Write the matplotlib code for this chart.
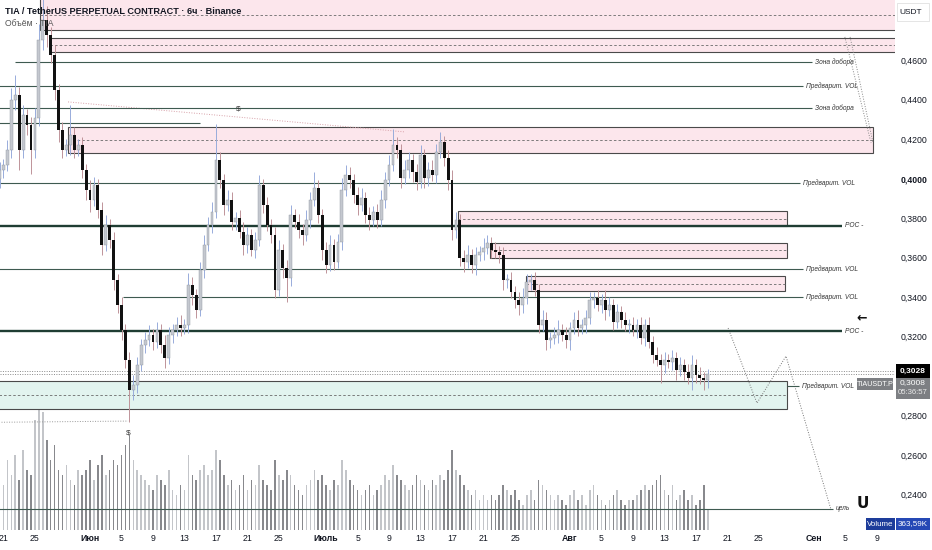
import matplotlib
matplotlib.use('Agg')
import matplotlib.pyplot as plt
import matplotlib.dates as mdates
import matplotlib.transforms as mtransforms
from matplotlib.patches import Rectangle
import pandas as pd
import numpy as np

plt.rcParams['font.family'] = ['Liberation Sans Narrow', 'Liberation Sans', 'DejaVu Sans']

# ---------------- data ----------------
candle_start = '2025-05-20 12:00'
candle_step = '12h'
first_open = 0.4000
closes = [
    0.4043, 0.4069, 0.4145, 0.4398, 0.4423, 0.4145, 0.4322, 0.4271, 0.4145, 0.4307,
    0.4701, 0.4803, 0.4727, 0.4626, 0.4448, 0.4246, 0.4145, 0.4170, 0.4220, 0.4145,
    0.4170, 0.4043, 0.3942, 0.3891, 0.3967, 0.3841, 0.3663, 0.3765, 0.3689, 0.3486,
    0.3360, 0.3233, 0.3081, 0.2929, 0.2955, 0.3056, 0.3157, 0.3183, 0.3208, 0.3172,
    0.3233, 0.3157, 0.3091, 0.3208, 0.3233, 0.3258, 0.3243, 0.3258, 0.3461, 0.3410,
    0.3334, 0.3537, 0.3663, 0.3765, 0.3831, 0.4094, 0.3993, 0.3866, 0.3891, 0.3780,
    0.3800, 0.3729, 0.3663, 0.3714, 0.3638, 0.3689, 0.3967, 0.3866, 0.3765, 0.3714,
    0.3436, 0.3638, 0.3547, 0.3496, 0.3815, 0.3780, 0.3739, 0.3714, 0.3790, 0.3891,
    0.3952, 0.3815, 0.3638, 0.3562, 0.3663, 0.3577, 0.3679, 0.3942, 0.4018, 0.3993,
    0.3917, 0.3866, 0.3901, 0.3815, 0.3790, 0.3831, 0.3790, 0.3891, 0.3993, 0.4069,
    0.4170, 0.4145, 0.4003, 0.4043, 0.4094, 0.4033, 0.3982, 0.4119, 0.4003, 0.4043,
    0.4018, 0.4134, 0.4185, 0.4104, 0.3993, 0.3739, 0.3790, 0.3598, 0.3577, 0.3613,
    0.3562, 0.3613, 0.3628, 0.3648, 0.3674, 0.3638, 0.3628, 0.3613, 0.3486, 0.3486,
    0.3426, 0.3385, 0.3360, 0.3395, 0.3476, 0.3486, 0.3436, 0.3258, 0.3284, 0.3183,
    0.3193, 0.3208, 0.3233, 0.3208, 0.3183, 0.3243, 0.3284, 0.3243, 0.3258, 0.3294,
    0.3385, 0.3395, 0.3360, 0.3385, 0.3334, 0.3360, 0.3274, 0.3324, 0.3284, 0.3258,
    0.3258, 0.3233, 0.3258, 0.3193, 0.3258, 0.3172, 0.3106, 0.3081, 0.3056, 0.3081,
    0.3071, 0.3091, 0.3030, 0.3056, 0.3020, 0.2990, 0.3056, 0.3005, 0.2990, 0.2980,
    0.3008]
wick_up = [
    0.004, 0.003, 0.005, 0.006, 0.010, 0.004, 0.005, 0.003, 0.004, 0.005,
    0.008, 0.012, 0.007, 0.004, 0.005, 0.003, 0.004, 0.003, 0.015, 0.004,
    0.003, 0.004, 0.003, 0.005, 0.004, 0.003, 0.004, 0.005, 0.003, 0.004,
    0.003, 0.004, 0.003, 0.004, 0.005, 0.004, 0.003, 0.004, 0.005, 0.003,
    0.004, 0.003, 0.005, 0.004, 0.003, 0.004, 0.005, 0.003, 0.006, 0.004,
    0.003, 0.004, 0.005, 0.004, 0.005, 0.018, 0.004, 0.003, 0.005, 0.004,
    0.003, 0.004, 0.005, 0.004, 0.003, 0.004, 0.005, 0.003, 0.004, 0.003,
    0.004, 0.005, 0.003, 0.004, 0.005, 0.003, 0.004, 0.003, 0.005, 0.004,
    0.008, 0.004, 0.003, 0.004, 0.005, 0.003, 0.004, 0.006, 0.005, 0.004,
    0.003, 0.004, 0.005, 0.003, 0.004, 0.003, 0.004, 0.005, 0.004, 0.005,
    0.008, 0.004, 0.003, 0.005, 0.004, 0.003, 0.004, 0.005, 0.003, 0.004,
    0.005, 0.004, 0.005, 0.003, 0.004, 0.005, 0.004, 0.003, 0.004, 0.005,
    0.003, 0.004, 0.003, 0.005, 0.004, 0.003, 0.004, 0.003, 0.004, 0.003,
    0.004, 0.003, 0.004, 0.005, 0.004, 0.003, 0.004, 0.003, 0.005, 0.004,
    0.003, 0.004, 0.005, 0.003, 0.004, 0.003, 0.004, 0.005, 0.003, 0.004,
    0.004, 0.003, 0.004, 0.003, 0.005, 0.004, 0.003, 0.004, 0.003, 0.004,
    0.003, 0.004, 0.003, 0.004, 0.003, 0.004, 0.003, 0.004, 0.003, 0.004,
    0.003, 0.004, 0.003, 0.004, 0.003, 0.004, 0.005, 0.003, 0.004, 0.003,
    0.003]
wick_dn = [
    0.005, 0.004, 0.003, 0.004, 0.005, 0.010, 0.004, 0.005, 0.012, 0.004,
    0.004, 0.005, 0.006, 0.004, 0.005, 0.006, 0.004, 0.003, 0.005, 0.004,
    0.003, 0.004, 0.005, 0.006, 0.003, 0.004, 0.005, 0.003, 0.004, 0.005,
    0.004, 0.005, 0.004, 0.016, 0.005, 0.004, 0.003, 0.004, 0.003, 0.004,
    0.003, 0.004, 0.005, 0.003, 0.004, 0.003, 0.004, 0.003, 0.004, 0.005,
    0.004, 0.003, 0.004, 0.003, 0.004, 0.003, 0.004, 0.005, 0.003, 0.004,
    0.004, 0.003, 0.005, 0.004, 0.003, 0.004, 0.003, 0.004, 0.003, 0.004,
    0.004, 0.003, 0.005, 0.012, 0.004, 0.003, 0.004, 0.005, 0.003, 0.004,
    0.003, 0.004, 0.005, 0.004, 0.003, 0.004, 0.003, 0.004, 0.003, 0.004,
    0.004, 0.005, 0.003, 0.004, 0.005, 0.003, 0.004, 0.003, 0.004, 0.003,
    0.003, 0.004, 0.005, 0.003, 0.004, 0.005, 0.004, 0.003, 0.005, 0.004,
    0.003, 0.004, 0.003, 0.004, 0.005, 0.005, 0.004, 0.004, 0.005, 0.003,
    0.004, 0.005, 0.003, 0.004, 0.003, 0.004, 0.003, 0.004, 0.005, 0.004,
    0.003, 0.004, 0.005, 0.004, 0.003, 0.004, 0.003, 0.004, 0.003, 0.005,
    0.004, 0.003, 0.004, 0.003, 0.004, 0.005, 0.003, 0.004, 0.003, 0.004,
    0.003, 0.004, 0.003, 0.004, 0.005, 0.003, 0.004, 0.003, 0.004, 0.003,
    0.004, 0.003, 0.004, 0.003, 0.004, 0.003, 0.004, 0.003, 0.009, 0.004,
    0.003, 0.004, 0.005, 0.003, 0.004, 0.003, 0.006, 0.004, 0.003, 0.005,
    0.004]
volumes_k = [
    2400, 1800, 2800, 2200, 3000, 2000, 3200, 2400, 2200,
    4400, 5000, 4720, 3600,
    2800, 3400, 2400, 2200, 2600, 2000, 1800, 2400,
    2200, 2400, 2800, 2000, 2600, 3000, 2200, 2400, 2800, 2600, 3000, 3400, 3800,
    2800, 2400, 2200, 2000, 1800, 1600, 2200, 2000, 1800, 2400, 1600, 1400, 1800, 1600,
    3000, 2200, 2000, 2400, 2600, 2200, 2400, 3200, 2800,
    2200, 1800, 2000, 1600, 1800, 2200, 1600, 2000, 1800, 2600, 2000, 1800, 1600, 2800, 2200, 2000, 2400,
    2200, 1800, 1600, 1400, 1800, 2000, 2400, 2000, 2200, 1800, 1600, 2000, 1800, 2800, 2400, 2000,
    1800, 1600, 1400, 1600, 1800, 1400, 1600, 1800, 2200, 2000,
    2600, 2200, 2000, 1800, 1600, 1800, 2200, 2000, 1800, 1600, 2000, 1800, 2200, 2000, 2400, 3200,
    2400, 2200, 1800, 1600, 1400, 1600, 1200, 1400, 1200, 1400, 1200, 1400, 1800, 1600, 1400, 1600,
    1200, 1000, 1400, 1600, 1200, 2000, 1800, 1600, 1400,
    1200, 1400, 1200, 1000, 1400, 1600, 1200, 1400, 1000, 1600, 1800, 1400, 1200, 1000, 1200,
    1400, 1600, 1200, 1000, 1200, 1200, 1400, 1600, 1800, 1600, 1800, 2000, 2200, 1600, 1400,
    1800, 1200, 1400, 1600, 1200, 1400, 1000, 1200, 1800, 800]

last_price = 0.3008
bid_line = 0.3028
last_volume_label = '363,59K'

price_ticks = [0.24, 0.26, 0.28, 0.32, 0.34, 0.36, 0.38, 0.40, 0.42, 0.44, 0.46]
bold_price_tick = '0,4000'

date_ticks = ['2025-05-21', '2025-05-25', '2025-06-01', '2025-06-05', '2025-06-09',
              '2025-06-13', '2025-06-17', '2025-06-21', '2025-06-25', '2025-07-01',
              '2025-07-05', '2025-07-09', '2025-07-13', '2025-07-17', '2025-07-21',
              '2025-07-25', '2025-08-01', '2025-08-05', '2025-08-09', '2025-08-13',
              '2025-08-17', '2025-08-21', '2025-08-25', '2025-09-01', '2025-09-05',
              '2025-09-09']
date_labels = ['21', '25', 'Июн', '5', '9', '13', '17', '21', '25', 'Июль', '5', '9', '13',
               '17', '21', '25', 'Авг', '5', '9', '13', '17', '21', '25', 'Сен', '5', '9']
month_labels = ['Июн', 'Июль', 'Авг', 'Сен']

LEFT = '2025-05-10'
RIGHT = '2025-09-20'
# zones: (low, high, dashed mid, start, end, kind)
zones = [
    (0.4752, 0.4960, 0.4828, '2025-05-25 16:00', RIGHT, 'pink'),
    (0.4641, 0.4712, 0.4676, '2025-05-26 22:00', RIGHT, 'pink'),
    (0.4129, 0.4261, 0.4195, '2025-05-29 05:00', '2025-09-08 12:00', 'pink'),
    (0.3760, 0.3836, 0.3795, '2025-07-17 18:00', '2025-08-28 13:00', 'pink'),
    (0.3598, 0.3674, 0.3638, '2025-07-21 20:00', '2025-08-28 13:00', 'pink'),
    (0.3431, 0.3507, 0.3466, '2025-07-26 09:30', '2025-08-28 06:00', 'pink'),
    (0.2833, 0.2975, 0.2904, LEFT, '2025-08-28 13:00', 'teal'),
]
# levels: (price, start, end, label, thick)
levels = [
    (0.4590, '2025-05-22 11:00', '2025-08-31 18:00', 'Зона добора', False),
    (0.4469, LEFT, '2025-08-30 14:30', 'Предварит. VOL', False),
    (0.4357, LEFT, '2025-08-31 18:00', 'Зона добора', False),
    (0.4281, LEFT, '2025-06-15 00:00', '', False),
    (0.3977, LEFT, '2025-08-30 05:00', 'Предварит. VOL', False),
    (0.3760, LEFT, '2025-09-04 13:00', 'POC -', True),
    (0.3542, LEFT, '2025-08-30 14:30', 'Предварит. VOL', False),
    (0.3400, '2025-06-05 04:30', '2025-08-30 14:30', 'Предварит. VOL', False),
    (0.3228, LEFT, '2025-09-04 13:00', 'POC -', True),
    (0.2950, '2025-08-28 13:00', '2025-08-30 02:00', 'Предварит. VOL', False),
    (0.2327, LEFT, '2025-09-03 10:00', 'цель', False),
]
# dotted paths: list of (date, price)
forecast_path = [('2025-08-21 02:00', 0.3243), ('2025-08-24 18:00', 0.2863),
                 ('2025-08-28 10:30', 0.3101), ('2025-09-03 04:00', 0.2322)]
top_path_a = [('2025-09-04 22:00', 0.4717), ('2025-09-08 06:00', 0.4180)]
top_path_b = [('2025-09-05 14:00', 0.4717), ('2025-09-08 12:00', 0.4180)]
trend_path = [('2025-05-29 05:00', 0.4388), ('2025-07-11 01:00', 0.4236)]
low_path = [(LEFT, 0.2762), ('2025-06-05 20:00', 0.2772)]
dollar_marks = [('2025-06-19 19:00', 0.4350), ('2025-06-05 20:00', 0.2712)]

# ---------------- figure ----------------
W, H = 932, 550
fig = plt.figure(figsize=(W / 100, H / 100), dpi=100)
fig.patch.set_facecolor('white')
ax = fig.add_axes([0, 20 / H, 895 / W, 530 / H])
axv = ax.twinx()
ax.set_zorder(2)
axv.set_zorder(1)
ax.patch.set_visible(False)

times = pd.date_range(candle_start, periods=len(closes), freq=candle_step)
xt = mdates.date2num(times.to_pydatetime())
opens = [first_open] + closes[:-1]
n = min(len(closes), len(wick_up), len(wick_dn))
o = np.array(opens[:n]); c = np.array(closes[:n])
hi = np.maximum(o, c) + np.array(wick_up[:n])
lo = np.minimum(o, c) - np.array(wick_dn[:n])
up = c >= o

def dn(s):
    return mdates.date2num(pd.Timestamp(s).to_pydatetime())

# volume
nv = min(len(volumes_k), n)
vcol = ['#c3c5c9' if up[i] else '#88898d' for i in range(nv)]
axv.bar(xt[:nv], volumes_k[:nv], width=0.2, color=vcol, linewidth=0)
axv.set_ylim(0, 21200)
axv.axis('off')

# zones
for lo_p, hi_p, mid, s, e, kind in zones:
    x0, x1 = dn(s), dn(e)
    fc = '#fce6ec' if kind == 'pink' else '#e2f4ef'
    ax.add_patch(Rectangle((x0, lo_p), x1 - x0, hi_p - lo_p, facecolor=fc,
                           edgecolor='#4a4a4a', linewidth=0.8, zorder=1))
    ax.hlines(mid, x0, x1, colors='#6a6a6a', linewidth=0.6, linestyles=(0, (3, 2.5)), zorder=1.2)

# levels
txt_off = mtransforms.offset_copy(ax.transData, fig=fig, x=3, y=0, units='dots')
for p, s, e, lab, thick in levels:
    ax.hlines(p, dn(s), dn(e), colors='#1f3d33' if thick else '#3e5a50',
              linewidth=1.7 if thick else 0.8, zorder=1.5)
    if lab:
        ax.text(dn(e), p, lab, transform=txt_off, fontsize=4.8, style='italic',
                color='#333333', va='center', ha='left', zorder=3)

# current price dotted lines
for p in (bid_line, last_price):
    ax.axhline(p, color='#8a8a8a', linewidth=0.7, linestyle=(0, (1, 1.5)), zorder=1.3)

# dotted paths
def plot_path(path, color, lw=0.7):
    xs = [dn(d) for d, _ in path]
    ys = [p for _, p in path]
    ax.plot(xs, ys, color=color, linewidth=lw, linestyle=(0, (1, 1.6)), zorder=1.4)

plot_path(forecast_path, '#777777')
plot_path(top_path_a, '#888888')
plot_path(top_path_b, '#888888')
plot_path(trend_path, '#d7a0a8')
plot_path(low_path, '#999999')
for d, p in dollar_marks:
    ax.text(dn(d), p, '$', fontsize=6, ha='center', va='center', color='#333333', zorder=3)

# candles
wick_col = np.where(up, '#98acdb', '#bf9399')
ax.vlines(xt[:n], lo, hi, colors=wick_col, linewidth=0.7, zorder=2)
body_lo = np.minimum(o, c)
body_h = np.maximum(np.abs(c - o), 0.0006)
ax.bar(xt[:n][up], body_h[up], bottom=body_lo[up], width=0.36, color='#c4c8cf',
       edgecolor='#9097a0', linewidth=0.3, zorder=2.2)
ax.bar(xt[:n][~up], body_h[~up], bottom=body_lo[~up], width=0.36, color='#111111',
       linewidth=0, zorder=2.2)

# axes limits
jun1 = pd.Timestamp('2025-06-01')
ax.set_xlim(dn(jun1 - pd.Timedelta(days=11.44)), dn(jun1 + pd.Timedelta(days=102.29)))
ax.set_ylim(0.4904 - 530 / 1975, 0.4904)
for sp in ax.spines.values():
    sp.set_visible(False)

ax.yaxis.tick_right()
ax.set_yticks(price_ticks)
ax.set_yticklabels([f'{p:.4f}'.replace('.', ',') for p in price_ticks])
ax.tick_params(axis='y', length=0, pad=4, labelsize=6.3, labelcolor='#131722')
for t in ax.get_yticklabels():
    if t.get_text() == bold_price_tick:
        t.set_fontweight('bold')

ax.set_xticks([dn(d) for d in date_ticks])
ax.set_xticklabels(date_labels)
ax.tick_params(axis='x', length=0, pad=3, labelsize=6.3, labelcolor='#131722')
for t in ax.get_xticklabels():
    if t.get_text() in month_labels:
        t.set_fontweight('bold')

# ---------------- decorations (pixel positions) ----------------
def fx(x):
    return x / W

def fy(y):
    return 1 - y / H

def fig_box(x0, y0, x1, y1, fc, ec='none', lw=0):
    fig.add_artist(Rectangle((fx(x0), fy(y1)), (x1 - x0) / W, (y1 - y0) / H,
                             transform=fig.transFigure, facecolor=fc, edgecolor=ec,
                             linewidth=lw, zorder=5))

fig.text(fx(5), fy(11), 'TIA / TetherUS PERPETUAL CONTRACT · 6ч · Binance', fontsize=6.6,
         fontweight='bold', color='#131722', va='center', ha='left', zorder=6)
fig.text(fx(5), fy(24), 'Объём · TIA', fontsize=6.2, color='#555555', va='center',
         ha='left', zorder=6)

fig_box(897, 3, 929, 21, 'white', ec='#e0e0e0', lw=0.6)
fig.text(fx(911), fy(12), 'USDT', fontsize=6, color='#131722', ha='center', va='center', zorder=6)

fig_box(896, 364, 930, 378, '#000000')
fig.text(fx(913), fy(371), f'{bid_line:.4f}'.replace('.', ','), fontsize=6, color='white',
         fontweight='bold', ha='center', va='center', zorder=6)
fig_box(896, 378, 930, 399, '#7d7f83')
fig.text(fx(913), fy(383), f'{last_price:.4f}'.replace('.', ','), fontsize=6, color='white',
         ha='center', va='center', zorder=6)
fig.text(fx(913), fy(393), '05:36:57', fontsize=5.6, color='#e8e8e8',
         ha='center', va='center', zorder=6)
fig_box(857, 378, 893, 390, '#7d7f83')
fig.text(fx(875), fy(384), 'TIAUSDT.P', fontsize=5.2, color='white',
         ha='center', va='center', zorder=6)

fig_box(866, 518, 895, 530, '#1d3c9a')
fig.text(fx(880.5), fy(524), 'Volume', fontsize=5.8, color='white', ha='center', va='center', zorder=6)
fig_box(895.5, 518, 930, 530, '#2548b5')
fig.text(fx(912.5), fy(524), last_volume_label, fontsize=5.8, color='white', ha='center',
         va='center', zorder=6)

fig.text(fx(862), fy(318), '←', fontsize=9, fontweight='bold', color='#111111',
         ha='center', va='center', family=['DejaVu Sans'], zorder=6)
fig.text(fx(863), fy(504), 'U', fontsize=11, fontweight='bold', color='#111111',
         ha='center', va='center', family=['DejaVu Sans'], zorder=6)

fig.savefig('out.png', dpi=100, facecolor='white')
